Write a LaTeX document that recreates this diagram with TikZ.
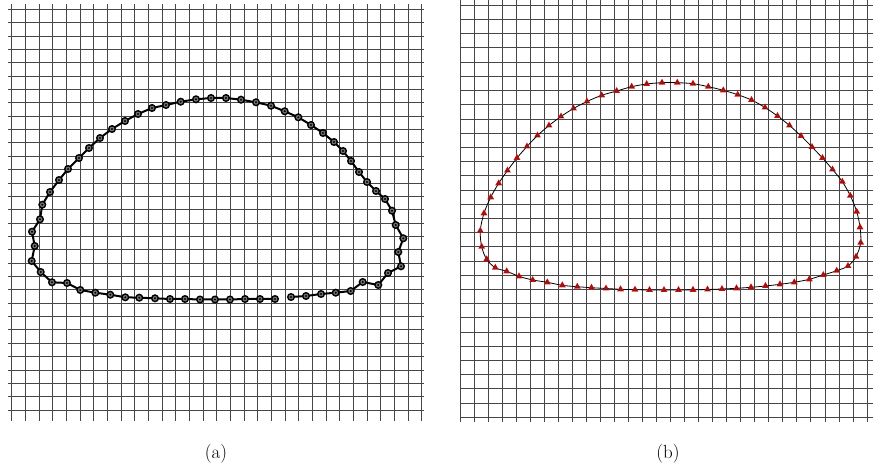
\documentclass[tikz,border=0pt]{standalone}
\begin{document}
\begin{tikzpicture}[x=1pt,y=-1pt,
  gridline/.style={draw=black!72,line width=0.85pt},
  polyline/.style={draw=black,line width=2pt,line join=round},
  cmark/.style={draw=black,line width=1.4pt,fill=black!55},
  smoothline/.style={draw=black,line width=0.8pt},
  caption/.style={inner sep=0pt,font=\fontsize{19}{22}\selectfont}]
\useasboundingbox (0,0) rectangle (873,470);
% ---------- left grid ----------
\foreach \i in {0,...,30}
  \draw[gridline] ({11.7+13.667*\i},4) -- ({11.7+13.667*\i},420.7);
\foreach \j in {0,...,30}
  \draw[gridline] (8,{9.3+13.357*\j}) -- (424,{9.3+13.357*\j});
% ---------- right grid ----------
\foreach \i in {0,...,29}
  \draw[gridline] ({460.3+14.024*\i},0) -- ({460.3+14.024*\i},421.7);
\foreach \j in {0,...,29}
  \draw[gridline] (460.3,{5.3+14.207*\j}) -- (873,{5.3+14.207*\j});
% ---------- left contour ----------
\draw[polyline] (291,297) \foreach \x/\y in {306/296,321/294,335.7/292.7,350.7/291,362.7/282,378.3/285,388/273,401/266.3,398.3/252,403.3/238.3,395.7/225,392/210.7,385/199,376/191,367/182,359/172,351/161,343/151,334/142,323/133,311/125,298.3/117.3,284.7/111.3,271/105.7,256/102.3,241/99.7,226/98,211/98,196/99.3,180.7/101.7,166/105,152/108,138/114,125/121,112/129,100/138,89/148,79/158,68/169,59/180,50/192,42.3/204.7,40/219.3,32/231.7,34.7/246,31.7/261,40.7/272,52/282.3,67/283,80.3/290,95.3/292.7,110.3/294.7,125.3/297.3,139.3/297.7,155/298.3,170/299,185/299,200/299.5,215/299.5,230/299.5,245/299,260/299,275/299} { -- (\x,\y) };
\foreach \x/\y in {291/297,306/296,321/294,335.7/292.7,350.7/291,362.7/282,378.3/285,388/273,401/266.3,398.3/252,403.3/238.3,395.7/225,392/210.7,385/199,376/191,367/182,359/172,351/161,343/151,334/142,323/133,311/125,298.3/117.3,284.7/111.3,271/105.7,256/102.3,241/99.7,226/98,211/98,196/99.3,180.7/101.7,166/105,152/108,138/114,125/121,112/129,100/138,89/148,79/158,68/169,59/180,50/192,42.3/204.7,40/219.3,32/231.7,34.7/246,31.7/261,40.7/272,52/282.3,67/283,80.3/290,95.3/292.7,110.3/294.7,125.3/297.3,139.3/297.7,155/298.3,170/299,185/299,200/299.5,215/299.5,230/299.5,245/299,260/299,275/299}
{
  \draw[cmark] (\x,\y) circle (3.3);
  \fill[black] (\x,\y) circle (1.1);
}
% ---------- right contour ----------
\draw[smoothline] plot[smooth cycle,tension=0.55] coordinates {(601.7,95.3) (616.7,91) (631.7,86.7) (646.7,84) (662,82.7) (677.3,82.7) (693,83.7) (708.3,86.7) (723.3,90.3) (737.7,94.7) (751.5,100) (765,107.5) (777.5,116) (789.5,125.5) (801,136) (812,147) (822.5,158) (832.5,169.5) (842.3,181.7) (850.3,195.7) (856.7,211.7) (860,227.3) (860.7,242.7) (856,256.7) (848,266) (836.7,270.7) (823.3,275) (809.3,279.3) (794.3,282.3) (780,284.3) (765.5,286) (751,287.3) (736.5,288.3) (722,289) (707.5,289.5) (693,289.8) (678.5,290) (664,290) (649.5,290) (635,289.7) (620.5,289.3) (606,288.5) (591.5,287.7) (577.3,286.7) (562.3,285.3) (547.3,282.3) (532.7,280) (519,276.3) (506.7,271.3) (495.3,267.7) (486.7,259.3) (481.7,246.7) (480.3,230.7) (484,213.3) (490.7,197.3) (498.7,183.3) (507.5,170.5) (517,158) (527,146.5) (537.5,135.5) (549,125.5) (561,116.5) (573.5,108.5) (587,101.5)};
\foreach \x/\y in {601.7/95.3,616.7/91,631.7/86.7,646.7/84,662/82.7,677.3/82.7,693/83.7,708.3/86.7,723.3/90.3,737.7/94.7,751.5/100,765/107.5,777.5/116,789.5/125.5,801/136,812/147,822.5/158,832.5/169.5,842.3/181.7,850.3/195.7,856.7/211.7,860/227.3,860.7/242.7,856/256.7,848/266,836.7/270.7,823.3/275,809.3/279.3,794.3/282.3,780/284.3,765.5/286,751/287.3,736.5/288.3,722/289,707.5/289.5,693/289.8,678.5/290,664/290,649.5/290,635/289.7,620.5/289.3,606/288.5,591.5/287.7,577.3/286.7,562.3/285.3,547.3/282.3,532.7/280,519/276.3,506.7/271.3,495.3/267.7,486.7/259.3,481.7/246.7,480.3/230.7,484/213.3,490.7/197.3,498.7/183.3,507.5/170.5,517/158,527/146.5,537.5/135.5,549/125.5,561/116.5,573.5/108.5,587/101.5}
{
  \fill[red] (\x,\y) ++(0,-4) -- ++(3.46,6) -- ++(-6.92,0) -- cycle;
  \draw[black!80,line width=0.6pt] (\x,\y) ++(0,-2) -- ++(1.73,3) -- ++(-3.46,0) -- cycle;
}
% ---------- captions ----------
\node[caption] (labela) at (216,453.5) {(a)};
\node[caption] (labelb) at (668,453.5) {(b)};
\end{tikzpicture}
\end{document}
